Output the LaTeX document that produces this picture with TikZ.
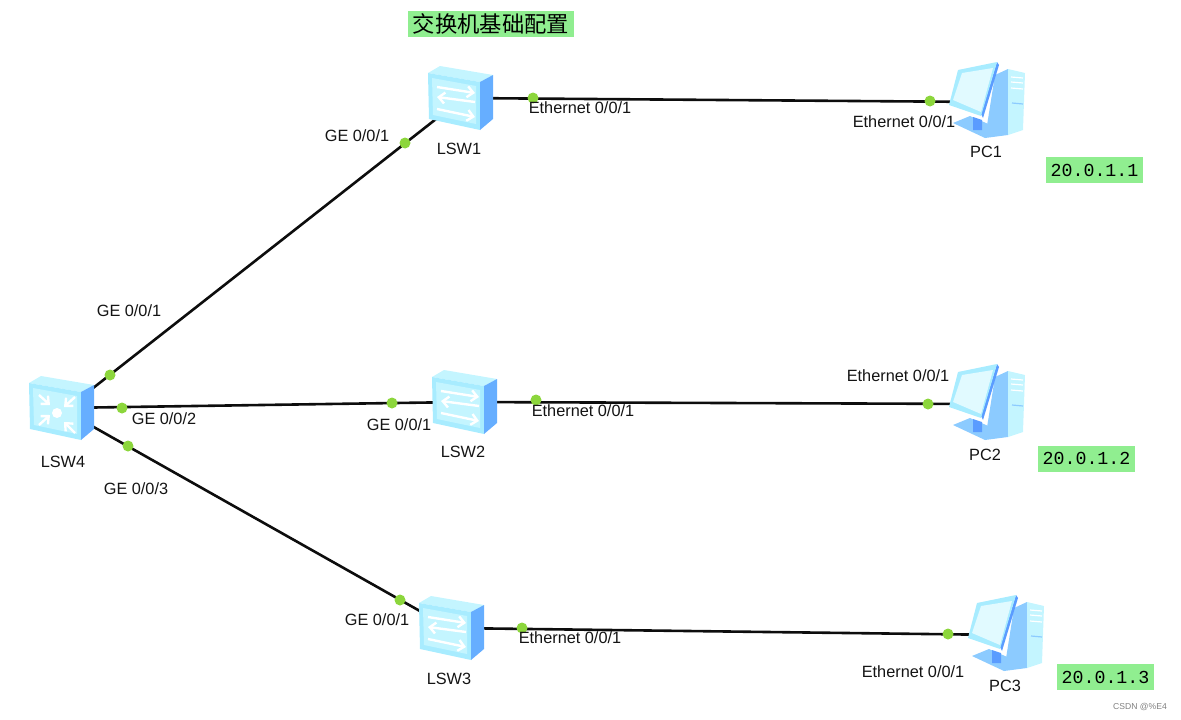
\documentclass[tikz,border=0pt]{standalone}
\usepackage{fontspec}
\setmainfont{Liberation Sans}
\setmonofont{Liberation Mono}
\newfontfamily\cjk{Noto Sans CJK SC}
\usetikzlibrary{arrows.meta}
\definecolor{portgreen}{HTML}{8CD63C}
\definecolor{notegreen}{HTML}{90EE90}
\definecolor{facelight}{HTML}{C4F5FF}
\definecolor{facemid}{HTML}{A8ECFF}
\definecolor{sideblue}{HTML}{66AEFF}
\definecolor{pcblue}{HTML}{8CCBFF}
\definecolor{pcdeep}{HTML}{5A9CFF}
\tikzset{
  device/.style={minimum size=36pt, inner sep=0pt},
  link/.style={black!95, line width=2.6pt},
  port/.style={circle, fill=portgreen, minimum size=11pt, inner sep=0pt},
  portlabel/.style={inner sep=0pt, yshift=-1pt, text=black!92, font=\fontsize{16.3}{18}\selectfont},
  note/.style={fill=notegreen, minimum width=97pt, minimum height=26pt, inner sep=0pt, font=\ttfamily\fontsize{18.3}{20}\selectfont},
  flow/.style={white, line width=2.4pt, -{Straight Barb[length=6pt,width=11pt]}},
  pics/boxbody/.style={code={
    \fill[facelight] (-31,-25) -- (-19,-32) -- (34,-23) -- (21,-16) -- cycle;
    \fill[facemid] (-31,-25) -- (21,-16) -- (21,32) -- (-30,21) -- cycle;
    \fill[facelight] (-27,-20) -- (17,-12) -- (17,26) -- (-26,17) -- cycle;
    \fill[sideblue] (21,-16) -- (34,-23) -- (34,21) -- (21,32) -- cycle;
  }},
  pics/switchicon/.style={code={
    \pic {boxbody};
    \draw[flow] (-22,-11) -- (16,-5);
    \draw[flow] (16,4) -- (-22,-1);
    \draw[flow] (-22,11) -- (16,19);
  }},
  pics/routericon/.style={code={
    \pic {boxbody};
    \fill[white] (-3,5) circle (5);
    \draw[flow] (-21,-13) -- (-10,-3);
    \draw[flow] (15,-11) -- (4,-1);
    \draw[flow] (-21,17) -- (-10,7);
    \draw[flow] (15,25) -- (4,14);
  }},
  pics/pcicon/.style={code={
    % tower
    \fill[pcblue] (9,-27) -- (22,-33) -- (22,33) -- (-1,36) -- cycle;
    \fill[facelight] (22,-33) -- (39,-29) -- (37,28) -- (22,33) -- cycle;
    \draw[white, line width=1.2pt] (25,-25) -- (37,-24) (25,-20) -- (37,-19) (25,-14) -- (37,-13);
    \draw[pcblue, line width=1.2pt] (26,1) -- (37,2);
    % stand
    \fill[pcblue] (-33,21) -- (-16,14) -- (16,28) -- (-1,36) -- cycle;
    \fill[pcdeep] (-13,15) -- (-4,18) -- (-4,28) -- (-13,28) -- cycle;
    % monitor
    \fill[pcdeep] (11,-40) -- (13,-37) -- (-3,16) -- (-5,12) -- cycle;
    \fill[facemid] (-28,-32) -- (11,-40) -- (-5,14) -- (-37,3) -- cycle;
    \fill[facelight!50!white] (-24,-29) -- (7,-34) -- (-5,10) -- (-33,-2) -- cycle;
  }}
}

\begin{document}
\begin{tikzpicture}[x=1pt, y=-1pt]
  \useasboundingbox (0,0) rectangle (1181,720);
  % Devices
  \node[device] (LSW4) at (60,408) {};
  \node[device] (LSW1) at (459,98) {};
  \node[device] (LSW2) at (463,402) {};
  \node[device] (LSW3) at (450,628) {};
  \node[device] (PC1) at (986,102) {};
  \node[device] (PC2) at (986,404) {};
  \node[device] (PC3) at (1005,635) {};
  \coordinate (uplinkA) at (60,414);
  \coordinate (uplinkB) at (459,101);
  % Links
  \draw[link] (uplinkA) -- (uplinkB);
  \draw[link] (LSW4) -- (LSW2);
  \draw[link] (LSW4) -- (LSW3);
  \draw[link] (LSW1) -- (PC1);
  \draw[link] (LSW2) -- (PC2);
  \draw[link] (LSW3) -- (PC3);
  % Icons
  \pic at (LSW4) {routericon};
  \foreach \sw in {LSW1, LSW2, LSW3}
    \pic at (\sw) {switchicon};
  \foreach \pc in {PC1, PC2, PC3}
    \pic at (\pc) {pcicon};
  % Ports
  \foreach \name/\pos in {a/{110,375}, b/{405,143}, c/{122,408}, d/{392,403}, e/{128,446}, f/{400,600},
      g/{533,98}, h/{930,101}, i/{536,400}, j/{928,404}, k/{522,628}, l/{948,634}}
    \node[port] (port\name) at (\pos) {};
  % Port labels
  \node[portlabel] (geA) at (129,310) {GE 0/0/1};
  \node[portlabel] (geB) at (164,418) {GE 0/0/2};
  \node[portlabel] (geC) at (136,488) {GE 0/0/3};
  \node[portlabel] (geD) at (357,135) {GE 0/0/1};
  \node[portlabel] (geE) at (399,424) {GE 0/0/1};
  \node[portlabel] (geF) at (377,619) {GE 0/0/1};
  \node[portlabel] (ethA) at (580,107) {Ethernet 0/0/1};
  \node[portlabel] (ethB) at (904,121) {Ethernet 0/0/1};
  \node[portlabel] (ethC) at (583,410) {Ethernet 0/0/1};
  \node[portlabel] (ethD) at (898,375) {Ethernet 0/0/1};
  \node[portlabel] (ethE) at (570,637) {Ethernet 0/0/1};
  \node[portlabel] (ethF) at (913,671) {Ethernet 0/0/1};
  % Device names
  \node[portlabel] (nameA) at (63,461) {LSW4};
  \node[portlabel] (nameB) at (459,148) {LSW1};
  \node[portlabel] (nameC) at (463,451) {LSW2};
  \node[portlabel] (nameD) at (449,678) {LSW3};
  \node[portlabel] (nameE) at (986,151) {PC1};
  \node[portlabel] (nameF) at (985,454) {PC2};
  \node[portlabel] (nameG) at (1005,685) {PC3};
  % Notes
  \node[fill=notegreen, minimum width=166pt, minimum height=26pt, inner sep=0pt, font=\cjk\fontsize{22.3}{24}\selectfont] (title) at (491,24) {交换机基础配置};
  \node[note] (ipA) at (1094.5,170) {20.0.1.1};
  \node[note] (ipB) at (1086.5,458.5) {20.0.1.2};
  \node[note] (ipC) at (1105.5,677) {20.0.1.3};
  \node[inner sep=0pt, text=black!50, font=\fontsize{8.6}{10}\selectfont] (mark) at (1140,707) {CSDN @\%E4};
\end{tikzpicture}
\end{document}
